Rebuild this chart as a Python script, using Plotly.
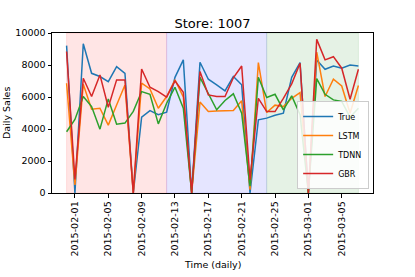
import pandas as pd
import plotly.graph_objects as go

# ---- data ----
dates = pd.date_range("2015-01-31", "2015-03-07", freq="D").strftime("%Y-%m-%d").tolist()

true_sales = [9210, 0, 9330, 7480, 7280, 6960, 7900, 7480, 0, 4740, 5150, 4890,
              5050, 7230, 8320, 0, 8170, 7110, 6760, 6380, 7280, 6760, 0, 4570,
              4680, 4860, 4990, 7230, 8150, 0, 8320, 7730, 7940, 7800, 8000, 7940]
lstm_sales = [6860, 500, 6800, 5240, 5300, 4240, 5500, 6750, 0, 6860, 6500, 5300,
              6030, 7070, 6000, 0, 5680, 5090, 5130, 5130, 5150, 5760, 200, 8150,
              5030, 5490, 5400, 5920, 6280, 0, 8800, 6030, 7110, 6690, 4990, 6720]
tdnn_sales = [3830, 4600, 6030, 5400, 3990, 5880, 4300, 4370, 5100, 6340, 6170, 4320,
              5610, 6610, 5300, 0, 7230, 6240, 5200, 5780, 6200, 4990, 420, 7230,
              5970, 6170, 5200, 6070, 4890, 0, 7150, 6170, 5820, 5720, 4740, 5300]
gbr_sales = [8840, 850, 7170, 6030, 7380, 5360, 7070, 7070, 0, 7750, 6610, 6340,
             5990, 7010, 6300, 0, 7590, 6130, 6030, 6030, 7200, 7940, 830, 5920,
             5090, 5090, 5920, 6820, 8110, 0, 9600, 8320, 8520, 7800, 5860, 7730]

series_names = ["True", "LSTM", "TDNN", "GBR"]
series_values = [true_sales, lstm_sales, tdnn_sales, gbr_sales]
series_colors = ["#1f77b4", "#ff7f0e", "#2ca02c", "#d62728"]

x_tick_labels = ["2015-02-01", "2015-02-05", "2015-02-09", "2015-02-13", "2015-02-17",
                 "2015-02-21", "2015-02-25", "2015-03-01", "2015-03-05"]
y_ticks = [0, 2000, 4000, 6000, 8000, 10000]

region_bounds = ["2015-01-31", "2015-02-12", "2015-02-24", "2015-03-07"]
region_fills = ["rgba(255,0,0,0.1)", "rgba(0,0,255,0.1)", "rgba(0,128,0,0.1)"]

# ---- figure ----
FONT = "DejaVu Sans"
fig = go.Figure()

for name, vals, col in zip(series_names, series_values, series_colors):
    fig.add_trace(go.Scatter(x=dates, y=vals, mode="lines", name=name,
                             line=dict(color=col, width=1.5)))

for i, fill in enumerate(region_fills):
    fig.add_shape(type="rect", xref="x", yref="paper",
                  x0=region_bounds[i], x1=region_bounds[i + 1], y0=0, y1=1,
                  fillcolor=fill, line=dict(color=fill, width=1), layer="below")

fig.update_layout(
    width=415, height=277,
    margin=dict(l=52, r=42, t=33, b=84),
    paper_bgcolor="white", plot_bgcolor="white",
    font=dict(family=FONT, size=9.5, color="black"),
    title=dict(text="Store: 1007", x=0.5, xref="paper", xanchor="center",
               y=1 - 23 / 277, yref="container", yanchor="middle",
               font=dict(family=FONT, size=13, color="black")),
    showlegend=True,
    legend=dict(x=0.988, y=0.025, xanchor="right", yanchor="bottom",
                bgcolor="rgba(255,255,255,0.85)", bordercolor="#cccccc", borderwidth=1,
                font=dict(family=FONT, size=8, color="black"), itemwidth=30,
                tracegroupgap=0),
)

fig.update_xaxes(
    type="date",
    range=["2015-01-29 06:00", "2015-03-08 18:00"],
    tickmode="array", tickvals=x_tick_labels, ticktext=x_tick_labels,
    tickangle=-90, ticks="outside", ticklen=3.5, tickcolor="black", tickwidth=1,
    showline=True, linecolor="black", linewidth=1, mirror=True,
    showgrid=False, zeroline=False,
    tickfont=dict(family=FONT, size=9.5, color="black"),
)
fig.update_yaxes(
    range=[0, 10000],
    tickmode="array", tickvals=y_ticks, ticktext=[str(v) for v in y_ticks],
    ticks="outside", ticklen=3.5, tickcolor="black", tickwidth=1,
    showline=True, linecolor="black", linewidth=1, mirror=True,
    showgrid=False, zeroline=False,
    tickfont=dict(family=FONT, size=9.5, color="black"),
)

fig.add_annotation(text="Daily Sales", xref="paper", yref="paper",
                   x=(6 - 52) / 321, y=0.5, textangle=-90, showarrow=False,
                   xanchor="center", yanchor="middle",
                   font=dict(family=FONT, size=9.5, color="black"))
fig.add_annotation(text="Time (daily)", xref="paper", yref="paper",
                   x=0.5, y=(193 - 264) / 160, showarrow=False,
                   xanchor="center", yanchor="middle",
                   font=dict(family=FONT, size=9.5, color="black"))

fig.write_html("out.html",
               config={"displayModeBar": False},
               post_script="document.body.style.margin='0';document.body.style.padding='0';")
